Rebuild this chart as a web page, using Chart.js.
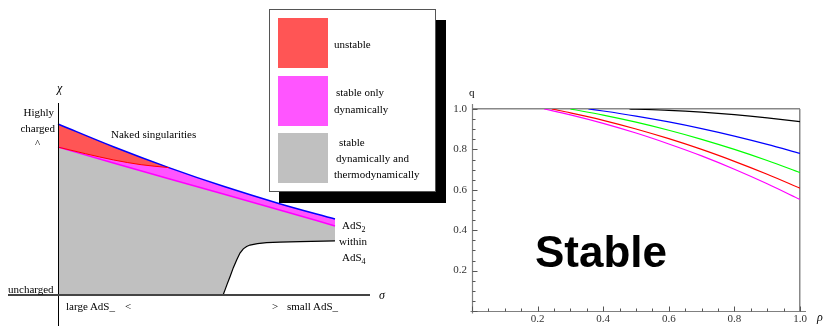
<!DOCTYPE html>
<html>
<head>
<meta charset="utf-8">
<script src="https://cdn.jsdelivr.net/npm/chart.js@4.4.1/dist/chart.umd.min.js"></script>
<style>
  html, body { margin:0; padding:0; background:#fff; }
  #wrap { position:relative; width:824px; height:326px; overflow:hidden; font-family:"Liberation Serif","DejaVu Serif",serif; font-size:11px; color:#000; }
  .lbl { position:absolute; line-height:14px; white-space:nowrap; }
  .lbl sub { font-size:8px; vertical-align:-3px; line-height:0; }
  .it { font-style:italic; font-size:12px; }
  #phase { position:absolute; left:0; top:0; }
  #qplot { position:absolute; left:420px; top:90px; }
  #legend { position:absolute; left:269px; top:9px; width:165px; height:181px; background:#fff; border:1px solid #555; box-shadow:10px 11px 0 #000; z-index:5; }
  .sw { position:absolute; left:8px; width:50px; height:50px; }
  #stable { position:absolute; left:535px; top:230px; font:bold 44px "Liberation Sans", Arial, sans-serif; line-height:44px; z-index:3; }
</style>
</head>
<body>
<div id="wrap">
  <canvas id="phase" width="430" height="326"></canvas>
  <canvas id="qplot" width="404" height="236"></canvas>
  <div id="legend"></div>
  <div id="stable">Stable</div>
</div>
<script>
// left diagram: boundaries (sigma -> chi)
const sigma = [0, 0.2, 0.4, 0.6, 0.8, 1.0];
const chiNaked = [1.0, 0.867, 0.745, 0.634, 0.534, 0.444];   // blue edge
const chiThermo = [0.865, 0.772, 0.680, 0.589, 0.497, 0.404]; // magenta edge
const sigmaUnstable = [0, 0.1, 0.2, 0.3, 0.4];
const chiUnstable = [0.865, 0.826, 0.790, 0.762, 0.745];      // red edge
const sigmaFloor = [0, 0.596, 0.603, 0.611, 0.621, 0.633, 0.645, 0.657, 0.669, 0.681, 0.693, 0.72, 0.753, 0.80, 0.874, 1.0];
const chiFloor = [0, 0, 0.03, 0.065, 0.107, 0.16, 0.205, 0.245, 0.27, 0.284, 0.292, 0.30, 0.306, 0.309, 0.312, 0.316];

// legend
const regionColors = ['#ff5555', '#ff55ff', '#c0c0c0'];
const legendLines = [['unstable'], ['stable only', 'dynamically'], ['stable', 'dynamically and', 'thermodynamically']];

// right plot: q(rho) curves
const rhoBlack = [0.48, 0.5, 0.6, 0.7, 0.8, 0.9, 1.0];
const qBlack = [1.0, 0.999, 0.9935, 0.9845, 0.972, 0.956, 0.937];
const rhoBlue = [0.355, 0.4, 0.5, 0.6, 0.7, 0.8, 0.9, 1.0];
const qBlue = [1.0, 0.990, 0.965, 0.936, 0.903, 0.866, 0.825, 0.780];
const rhoGreen = [0.30, 0.4, 0.5, 0.6, 0.7, 0.8, 0.9, 1.0];
const qGreen = [1.0, 0.970, 0.935, 0.895, 0.850, 0.800, 0.745, 0.685];
const rhoRed = [0.243, 0.3, 0.4, 0.5, 0.6, 0.7, 0.8, 0.9, 1.0];
const qRed = [1.0, 0.981, 0.944, 0.901, 0.853, 0.800, 0.741, 0.677, 0.608];
const rhoMagenta = [0.22, 0.3, 0.4, 0.5, 0.6, 0.7, 0.8, 0.9, 1.0];
const qMagenta = [1.0, 0.971, 0.929, 0.881, 0.827, 0.768, 0.702, 0.630, 0.552];
const tickValues = [0.2, 0.4, 0.6, 0.8, 1.0];

const pts = (xs, ys) => xs.map((x, i) => ({x: x, y: ys[i]}));
const wrap = document.getElementById('wrap');

function label(html, x, y, cls, right) {
    const d = document.createElement('div');
    d.className = 'lbl' + (cls ? ' ' + cls : '');
    d.innerHTML = html;
    d.style.top = (y - 7) + 'px';
    if (right) d.style.right = (824 - x) + 'px'; else d.style.left = x + 'px';
    wrap.appendChild(d);
}

// texts of the left sketch
label('&chi;', 57, 88, 'it');
label('Highly', 54, 112, '', true);
label('charged', 55, 128, '', true);
label('^', 35, 143);
label('uncharged', 8, 289);
label('large AdS_', 66, 306);
label('&lt;', 125, 306);
label('&gt;', 272, 306);
label('small AdS_', 287, 306);
label('Naked singularities', 111, 134);
label('AdS<sub>2</sub>', 342, 225);
label('within', 339, 241);
label('AdS<sub>4</sub>', 342, 257);
label('&sigma;', 379, 295, 'it');
label('q', 469, 92);
label('&rho;', 817, 317, 'it');

// legend box
const legend = document.getElementById('legend');
const swTop = [8, 66, 123];
const lineTops = [[27], [75, 92], [125, 141, 157]];
const lineLefts = [[64], [66, 64], [69, 66, 64]];
legendLines.forEach((lines, i) => {
    const sw = document.createElement('div');
    sw.className = 'sw';
    sw.style.top = swTop[i] + 'px';
    sw.style.background = regionColors[i];
    legend.appendChild(sw);
    lines.forEach((t, j) => {
        const d = document.createElement('div');
        d.className = 'lbl';
        d.textContent = t;
        d.style.left = lineLefts[i][j] + 'px';
        d.style.top = lineTops[i][j] + 'px';
        legend.appendChild(d);
    });
});

// axes lines of the sketch
const phaseAxes = {
    id: 'phaseAxes',
    afterDatasetsDraw(chart) {
        const {ctx, chartArea, scales} = chart;
        const x0 = Math.round(scales.x.getPixelForValue(0)) + 0.5;
        const y0 = Math.round(scales.y.getPixelForValue(0));
        ctx.save();
        ctx.strokeStyle = '#000'; ctx.lineWidth = 1;
        ctx.beginPath(); ctx.moveTo(x0, chartArea.top); ctx.lineTo(x0, chartArea.bottom); ctx.stroke();
        ctx.strokeStyle = '#444'; ctx.lineWidth = 2;
        ctx.beginPath(); ctx.moveTo(chartArea.left, y0); ctx.lineTo(chartArea.right, y0); ctx.stroke();
        ctx.restore();
    }
};

const lineBase = {showLine: true, pointRadius: 0, cubicInterpolationMode: 'monotone'};

// fills are painted from the highest order down, so red (order 2) lands above magenta (order 3)
new Chart(document.getElementById('phase'), {
    type: 'scatter',
    data: {
        datasets: [
            {...lineBase, data: pts(sigmaFloor, chiFloor), borderColor: 'transparent', borderWidth: 0, cubicInterpolationMode: 'default', tension: 0, order: 9},
            {...lineBase, data: pts(sigma, chiThermo), borderColor: '#ff00ff', borderWidth: 1.5, backgroundColor: regionColors[2], fill: {target: 0}, order: 5},
            {...lineBase, data: pts(sigma, chiNaked), borderColor: '#0000ff', borderWidth: 1.5, backgroundColor: regionColors[1], fill: {target: 1}, order: 3},
            {...lineBase, data: pts(sigmaUnstable, chiUnstable), borderColor: '#ff0000', borderWidth: 1, backgroundColor: regionColors[0], fill: {target: 2}, order: 2},
            {...lineBase, data: pts(sigmaFloor.slice(1), chiFloor.slice(1)), borderColor: '#000', borderWidth: 1.2, cubicInterpolationMode: 'default', tension: 0, order: 1}
        ]
    },
    options: {
        responsive: false,
        animation: false,
        layout: {padding: {left: 8, top: 103, right: 60, bottom: 0}},
        plugins: {legend: {display: false}, tooltip: {enabled: false}, filler: {drawTime: 'beforeDatasetsDraw'}},
        scales: {
            x: {type: 'linear', display: false, min: -0.1805, max: 1.1264},
            y: {type: 'linear', display: false, min: -0.1813, max: 1.1228}
        }
    },
    plugins: [phaseAxes]
});

// axes and inside ticks of the q plot
const qAxes = {
    id: 'qAxes',
    afterDatasetsDraw(chart) {
        const {ctx, scales: {x, y}} = chart;
        const x0 = Math.round(x.getPixelForValue(0)) + 0.5;
        const y0 = Math.round(y.getPixelForValue(0)) + 0.5;
        ctx.save();
        ctx.strokeStyle = '#808080'; ctx.lineWidth = 1.2;
        ctx.beginPath();
        ctx.moveTo(x0 - 2, y0); ctx.lineTo(x.getPixelForValue(1) + 6, y0);
        ctx.moveTo(x0, y0 + 2); ctx.lineTo(x0, y.getPixelForValue(1) - 5);
        ctx.stroke();
        ctx.strokeStyle = '#555'; ctx.lineWidth = 1;
        ctx.beginPath();
        for (let i = 0; i <= 20; i++) {
            const v = i / 20, len = i % 4 === 0 ? 5 : 3;
            const px = Math.round(x.getPixelForValue(v)) + 0.5;
            ctx.moveTo(px, y0); ctx.lineTo(px, y0 - len);
            const py = Math.round(y.getPixelForValue(v)) + 0.5;
            ctx.moveTo(x0, py); ctx.lineTo(x0 + len, py);
        }
        ctx.stroke();
        ctx.restore();
    }
};

const frameColor = c => (c.tick && Math.abs(c.tick.value - 1) < 1e-9) ? '#888' : 'rgba(0,0,0,0)';
const tickFont = {family: 'Liberation Serif', size: 11};
const tickLabel = v => tickValues.some(t => Math.abs(t - v) < 1e-9) ? v.toFixed(1) : '';

new Chart(document.getElementById('qplot'), {
    type: 'scatter',
    data: {
        datasets: [
            {...lineBase, data: pts(rhoBlack, qBlack), borderColor: '#000', borderWidth: 1.2},
            {...lineBase, data: pts(rhoBlue, qBlue), borderColor: '#0000ff', borderWidth: 1.2},
            {...lineBase, data: pts(rhoGreen, qGreen), borderColor: '#00ff00', borderWidth: 1.2},
            {...lineBase, data: pts(rhoRed, qRed), borderColor: '#ff0000', borderWidth: 1.2},
            {...lineBase, data: pts(rhoMagenta, qMagenta), borderColor: '#ff00ff', borderWidth: 1.2}
        ]
    },
    options: {
        responsive: false,
        animation: false,
        layout: {padding: {left: 0, top: 19, right: 24, bottom: 0}},
        plugins: {legend: {display: false}, tooltip: {enabled: false}},
        scales: {
            x: {
                type: 'linear', min: 0, max: 1,
                afterFit: s => { s.height = 15; },
                border: {display: false},
                grid: {drawTicks: false, color: frameColor, lineWidth: 1.5},
                ticks: {stepSize: 0.2, padding: 2, maxRotation: 0, autoSkip: false, color: '#333', font: tickFont, callback: tickLabel}
            },
            y: {
                type: 'linear', min: 0, max: 1,
                afterFit: s => { s.width = 52; },
                border: {display: false},
                grid: {drawTicks: false, color: frameColor, lineWidth: 1.5},
                ticks: {stepSize: 0.2, padding: 5, color: '#333', font: tickFont, callback: tickLabel}
            }
        }
    },
    plugins: [qAxes]
});
</script>
</body>
</html>
